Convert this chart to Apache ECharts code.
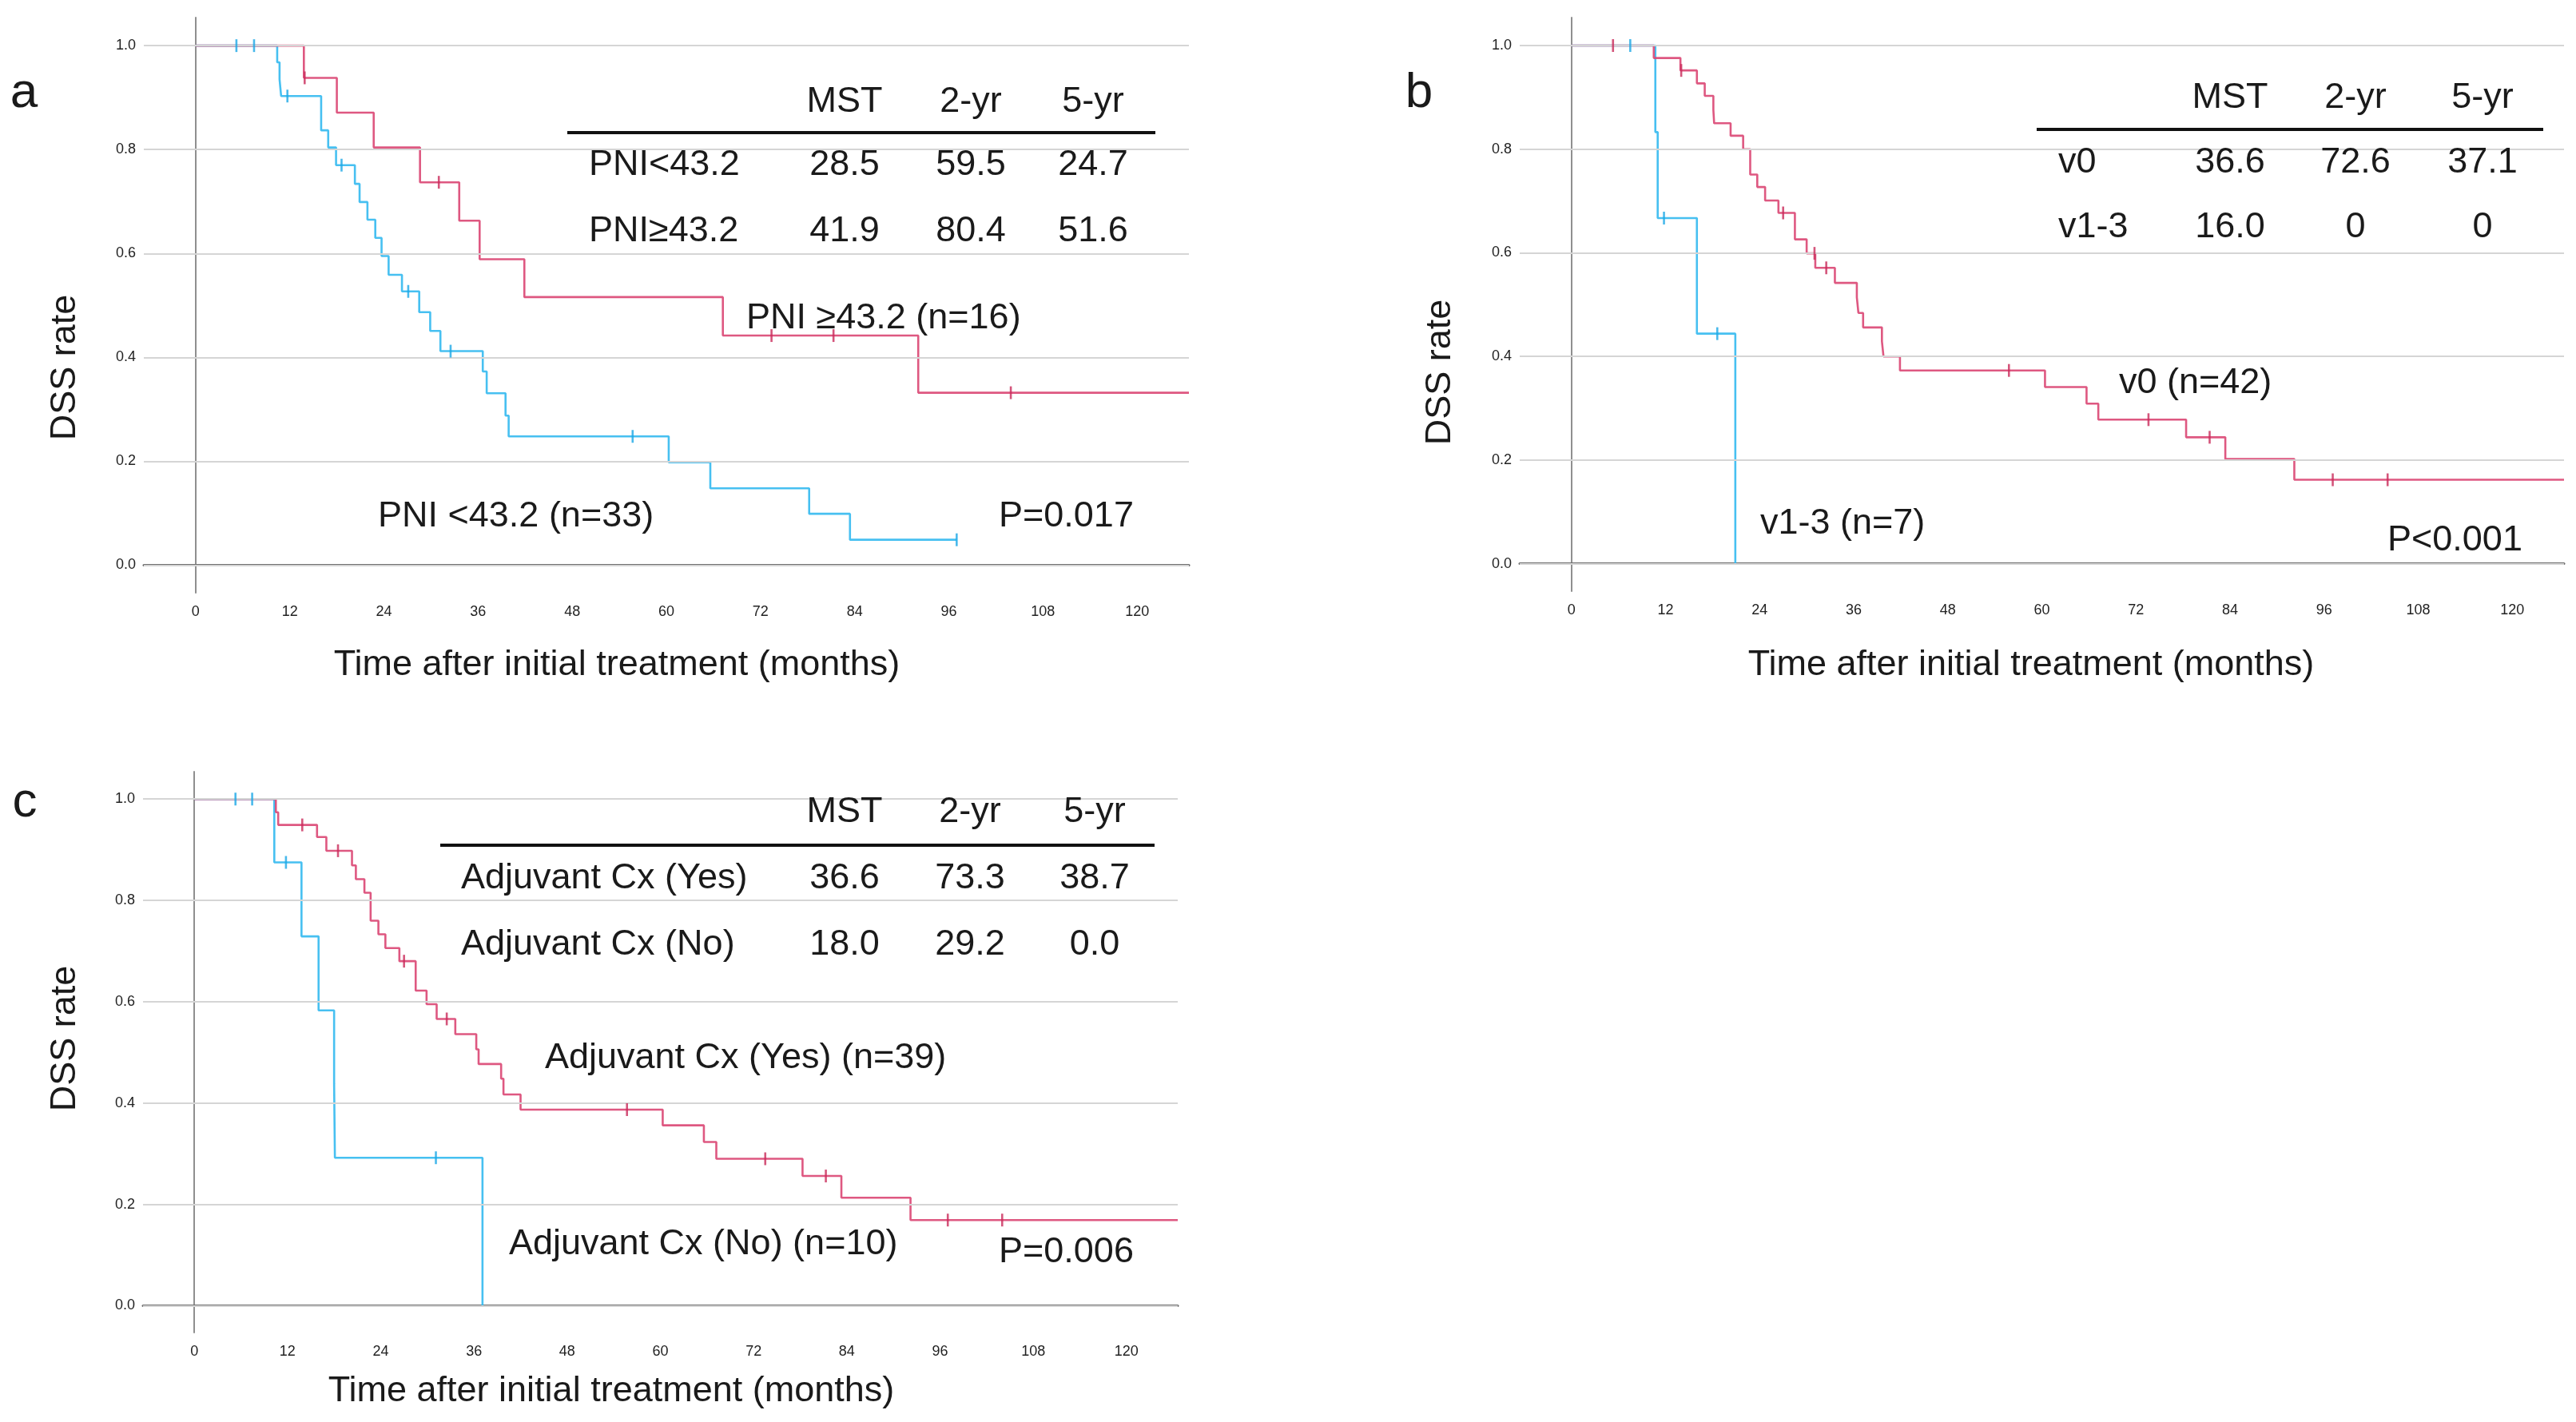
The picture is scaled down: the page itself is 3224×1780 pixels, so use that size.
<!DOCTYPE html>
<html><head><meta charset="utf-8">
<script src="https://cdn.jsdelivr.net/npm/echarts@6/dist/echarts.min.js"></script>
<style>html,body{margin:0;padding:0;background:#fff}#c{width:3224px;height:1780px}</style>
</head><body><div id="c"></div>
<script>
// ---- tick labels ----
const timeTicks = [0, 12, 24, 36, 48, 60, 72, 84, 96, 108, 120];
const rateTicks = [0, 0.2, 0.4, 0.6, 0.8, 1.0];

// ---- panel a : PNI ----
const aHighTimes = [0, 13.8, 18.0, 22.7, 28.6, 33.6, 36.2, 41.9, 67.2, 92.1, 126.6];
const aHighSurv  = [1, 0.938, 0.871, 0.804, 0.737, 0.663, 0.589, 0.516, 0.442, 0.332, 0.332];
const aHighCensTimes = [13.9, 31.0, 73.4, 81.3, 103.9];
const aHighCensSurv  = [0.938, 0.737, 0.442, 0.442, 0.332];
const aLowTimes = [0, 10.4, 10.7, 10.9, 16.0, 16.9, 17.9, 20.3, 20.9, 21.9, 22.9, 23.7, 24.6, 26.3, 28.5, 29.9, 31.2, 36.6, 37.1, 39.5, 39.9, 60.3, 65.6, 78.2, 83.4, 97.0];
const aLowSurv  = [1, 0.968, 0.935, 0.903, 0.837, 0.804, 0.770, 0.734, 0.699, 0.665, 0.630, 0.595, 0.559, 0.527, 0.487, 0.451, 0.412, 0.373, 0.331, 0.288, 0.248, 0.198, 0.148, 0.099, 0.049, 0.049];
const aLowCensTimes = [5.2, 7.45, 11.7, 18.6, 27.1, 32.5, 55.7, 97.0];
const aLowCensSurv  = [1, 1, 0.903, 0.770, 0.527, 0.412, 0.248, 0.049];

// ---- panel b : venous invasion ----
const bV0Times = [0, 10.5, 13.9, 16.0, 17.0, 18.1, 18.2, 20.3, 21.9, 22.8, 23.7, 24.7, 26.4, 28.5, 30.0, 31.1, 33.6, 36.4, 36.6, 37.2, 39.6, 39.8, 41.9, 60.4, 65.7, 67.2, 78.4, 83.4, 92.2, 126.6];
const bV0Surv  = [1, 0.976, 0.952, 0.927, 0.903, 0.876, 0.850, 0.826, 0.800, 0.751, 0.727, 0.701, 0.677, 0.626, 0.599, 0.571, 0.542, 0.514, 0.484, 0.456, 0.429, 0.400, 0.373, 0.341, 0.309, 0.278, 0.244, 0.202, 0.162, 0.162];
const bV0CensTimes = [5.3, 14.0, 27.0, 31.0, 32.5, 55.8, 73.6, 81.4, 97.1, 104.1];
const bV0CensSurv  = [1, 0.952, 0.677, 0.599, 0.571, 0.373, 0.278, 0.244, 0.162, 0.162];
const bV13Times = [0, 10.7, 11.0, 16.0, 20.9];
const bV13Surv  = [1, 0.833, 0.667, 0.444, 0];
const bV13CensTimes = [7.5, 11.8, 18.6];
const bV13CensSurv  = [1, 0.667, 0.444];

// ---- panel c : adjuvant chemotherapy ----
const cYesTimes = [0, 10.5, 10.8, 15.8, 17.0, 20.3, 20.8, 21.9, 22.7, 23.7, 24.6, 26.4, 28.5, 29.9, 31.2, 33.6, 36.3, 36.6, 39.5, 39.8, 42.0, 60.3, 65.6, 67.2, 78.3, 83.3, 92.2, 126.6];
const cYesSurv  = [1, 0.974, 0.949, 0.925, 0.898, 0.869, 0.842, 0.815, 0.760, 0.733, 0.706, 0.680, 0.622, 0.595, 0.566, 0.536, 0.506, 0.477, 0.448, 0.417, 0.387, 0.356, 0.323, 0.290, 0.256, 0.213, 0.169, 0.169];
const cYesCensTimes = [13.9, 18.5, 27.0, 32.5, 55.7, 73.5, 81.3, 97.0, 104.0];
const cYesCensSurv  = [0.949, 0.898, 0.680, 0.566, 0.387, 0.290, 0.256, 0.169, 0.169];
const cNoTimes = [0, 10.3, 13.8, 16.0, 18.0, 18.1, 37.1];
const cNoSurv  = [1, 0.875, 0.729, 0.583, 0.438, 0.292, 0];
const cNoCensTimes = [5.3, 7.45, 11.8, 31.1];
const cNoCensSurv  = [1, 1, 0.875, 0.292];

// ---- tables & labels ----
const tableHeader = ['MST', '2-yr', '5-yr'];
const aRows = [['PNI<43.2', '28.5', '59.5', '24.7'], ['PNI\u226543.2', '41.9', '80.4', '51.6']];
const bRows = [['v0', '36.6', '72.6', '37.1'], ['v1-3', '16.0', '0', '0']];
const cRows = [['Adjuvant Cx (Yes)', '36.6', '73.3', '38.7'], ['Adjuvant Cx (No)', '18.0', '29.2', '0.0']];

const RED = '#DA4673', RED_C = '#C92A5A', BLUE = '#33B9F0', BLUE_C = '#1CA8E6';
const FONT = '"Liberation Sans", Arial, sans-serif';

const pairs = (t, s) => t.map((x, i) => [x, s[i]]);

const grids = [
  {left: 180, top: 22, width: 1308, height: 720},
  {left: 1902, top: 22, width: 1307, height: 718},
  {left: 179, top: 966, width: 1295, height: 702}
];

const xAxes = grids.map((g, i) => ({
  type: 'value', gridIndex: i, min: -6.6, max: 126.6,
  axisLine: {show: true, lineStyle: {color: '#6f6f6f', width: 3}},
  axisTick: {show: false},
  splitLine: {show: false},
  axisLabel: {customValues: timeTicks, fontSize: 18, color: '#222', fontFamily: FONT, margin: 15}
}));
const yAxes = grids.map((g, i) => ({
  type: 'value', gridIndex: i, min: -0.053, max: 1.054,
  axisLine: {show: true, lineStyle: {color: '#8f8f8f', width: 2}},
  axisTick: {show: false},
  splitLine: {show: false},
  axisLabel: {customValues: rateTicks, formatter: v => v.toFixed(1), fontSize: 18, color: '#222', fontFamily: FONT, margin: 10}
}));

function gridLines(i) {
  return {type: 'line', xAxisIndex: i, yAxisIndex: i, data: [], z: 1, silent: true,
    markLine: {silent: true, symbol: ['none', 'none'], label: {show: false}, animation: false,
      lineStyle: {color: '#D5D5D5', width: 2, type: 'solid'},
      data: rateTicks.map(v => ({yAxis: v}))}};
}
function curve(i, t, s, color, z) {
  return {type: 'line', xAxisIndex: i, yAxisIndex: i, step: 'end', data: pairs(t, s),
    symbol: 'none', showSymbol: false, silent: true, z: z,
    lineStyle: {color: color, width: 2.6, opacity: 0.9}};
}
function cens(i, t, s, color) {
  return {type: 'scatter', xAxisIndex: i, yAxisIndex: i, data: pairs(t, s), silent: true, z: 6,
    symbol: 'rect', symbolSize: [2.6, 16], itemStyle: {color: color}};
}

const series = [
  gridLines(0), gridLines(1), gridLines(2),
  curve(0, aLowTimes, aLowSurv, BLUE, 3), curve(0, aHighTimes, aHighSurv, RED, 4),
  cens(0, aLowCensTimes, aLowCensSurv, BLUE_C), cens(0, aHighCensTimes, aHighCensSurv, RED_C),
  curve(1, bV13Times, bV13Surv, BLUE, 3), curve(1, bV0Times, bV0Surv, RED, 4),
  cens(1, bV13CensTimes, bV13CensSurv, BLUE_C), cens(1, bV0CensTimes, bV0CensSurv, RED_C),
  curve(2, cNoTimes, cNoSurv, BLUE, 3), curve(2, cYesTimes, cYesSurv, RED, 4),
  cens(2, cNoCensTimes, cNoCensSurv, BLUE_C), cens(2, cYesCensTimes, cYesCensSurv, RED_C)
];

function txt(x, y, text, size, align, extra) {
  return Object.assign({type: 'text', x: x, y: y, z: 20, silent: true,
    style: {text: text, fontSize: size, fontFamily: FONT, fill: '#1a1a1a', align: align || 'left', verticalAlign: 'middle'}}, extra || {});
}
function table(lineX1, lineX2, headerY, lineY, rowYs, labelX, colXs, rows) {
  const g = [];
  tableHeader.forEach((h, k) => g.push(txt(colXs[k], headerY, h, 45, 'center')));
  g.push({type: 'line', z: 20, silent: true, shape: {x1: lineX1, y1: lineY, x2: lineX2, y2: lineY}, style: {stroke: '#111', lineWidth: 4}});
  rows.forEach((r, j) => {
    g.push(txt(labelX, rowYs[j], r[0], 45, 'left'));
    for (let k = 1; k < 4; k++) g.push(txt(colXs[k - 1], rowYs[j], r[k], 45, 'center'));
  });
  return g;
}

const graphics = [].concat(
  // panel letters
  txt(30, 117, 'a', 62, 'center'), txt(1776, 117, 'b', 62, 'center'), txt(31, 1005, 'c', 62, 'center'),
  // y titles
  txt(82, 460, 'DSS rate', 45, 'center', {rotation: Math.PI / 2}),
  txt(1803, 466, 'DSS rate', 45, 'center', {rotation: Math.PI / 2}),
  txt(82, 1300, 'DSS rate', 45, 'center', {rotation: Math.PI / 2}),
  // x titles
  txt(772, 833, 'Time after initial treatment (months)', 45, 'center'),
  txt(2542, 833, 'Time after initial treatment (months)', 45, 'center'),
  txt(765, 1742, 'Time after initial treatment (months)', 45, 'center'),
  // tables
  table(710, 1446, 128, 166, [207, 290], 737, [1057, 1215, 1368], aRows),
  table(2549, 3183, 123, 162, [204, 285], 2576, [2791, 2948, 3107], bRows),
  table(551, 1445, 1017, 1058, [1100, 1183], 577, [1057, 1214, 1370], cRows),
  // curve labels
  txt(934, 399, 'PNI \u226543.2 (n=16)', 45), txt(473, 647, 'PNI <43.2 (n=33)', 45), txt(1250, 647, 'P=0.017', 45),
  txt(2652, 480, 'v0 (n=42)', 45), txt(2203, 656, 'v1-3 (n=7)', 45), txt(2988, 677, 'P<0.001', 45),
  txt(682, 1325, 'Adjuvant Cx (Yes) (n=39)', 45), txt(637, 1558, 'Adjuvant Cx (No) (n=10)', 45), txt(1250, 1568, 'P=0.006', 45)
);

const chart = echarts.init(document.getElementById('c'), null, {renderer: 'canvas'});
chart.setOption({
  animation: false,
  backgroundColor: '#fff',
  grid: grids,
  xAxis: xAxes,
  yAxis: yAxes,
  series: series,
  graphic: graphics
});
</script>
</body></html>
